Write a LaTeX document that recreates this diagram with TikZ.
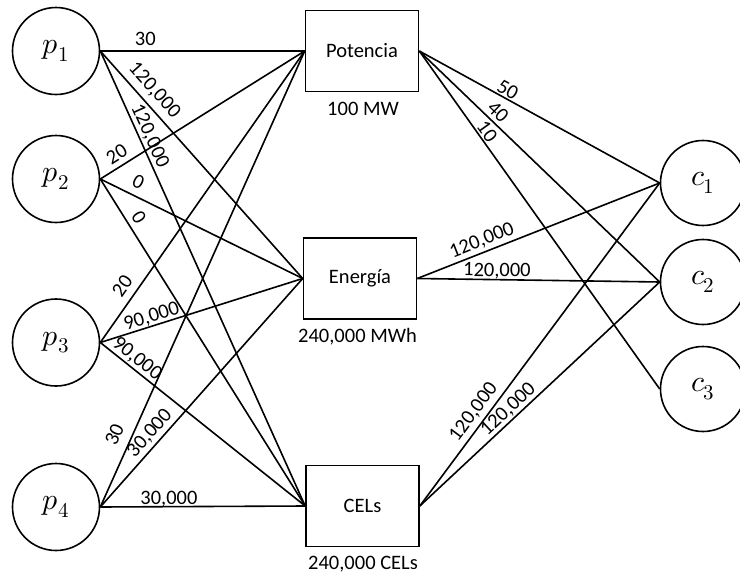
\documentclass[tikz,border=0pt]{standalone}
\usepackage{fontspec}
\usepackage{unicode-math}
\setmainfont{Carlito}
\setmathfont{Latin Modern Math}
\begin{document}
\begin{tikzpicture}[x=1pt,y=-1pt,
  every node/.style={font=\fontsize{20.5}{24}\selectfont},
  party/.style={circle,draw,line width=1.6pt,minimum size=87pt,inner sep=0pt,
    font=\fontsize{30}{36}\selectfont},
  buyer/.style={party,minimum size=85pt},
  market/.style={rectangle,draw,line width=1.6pt,minimum width=113pt,
    minimum height=81pt,inner sep=0pt},
  limitnote/.style={anchor=base,inner sep=0pt},
  flow/.style={line width=1.6pt},
  qty/.style={sloped,anchor=south,inner xsep=0pt,inner ysep=#1,
    text height=13pt,text depth=0pt},
]
\useasboundingbox (0,0) rectangle (740,573);

% producers
\node[party] (p1) at (56,51)    {$p_1$};
\node[party] (p2) at (56,179)   {$p_2$};
\node[party] (p3) at (56,342.5) {$p_3$};
\node[party] (p4) at (56,507)   {$p_4$};

% products
\node[market] (pot) at (362,51)    {Potencia};
\node[market] (en)  at (360,278.5) {Energía};
\node[market] (cel) at (362.5,506) {CELs};
\node[limitnote] (potcap) at (363,115)   {100 MW};
\node[limitnote] (encap)  at (357.5,342) {240,000 MWh};
\node[limitnote] (celcap) at (363,569)   {240,000 CELs};

% consumers
\node[buyer] (c1) at (703,183) {$c_1$};
\node[buyer] (c2) at (703,282) {$c_2$};
\node[buyer] (c3) at (703,389) {$c_3$};

% offers from producers
\draw[flow] (p1.east) -- node[qty=4.5pt,pos=0.22]{30} (pot.west);
\draw[flow] (p1.east) -- node[qty=8pt,pos=0.215]{120,000} (en.west);
\draw[flow] (p1.east) -- node[qty=4pt,pos=0.196]{120,000} (cel.west);

\draw[flow] (p2.east) -- node[qty=5pt,pos=0.112]{20} (pot.west);
\draw[flow] (p2.east) -- node[qty=6.4pt,pos=0.158]{0} (en.west);
\draw[flow] (p2.east) -- node[qty=5pt,pos=0.138]{0} (cel.west);

\draw[flow] (p3.east) -- node[qty=7pt,pos=0.165]{20} (pot.west);
\draw[flow] (p3.east) -- node[qty=2.8pt,pos=0.267]{90,000} (en.west);
\draw[flow] (p3.east) -- node[qty=4pt,pos=0.148]{90,000} (cel.west);

\draw[flow] (p4.east) -- node[qty=9.5pt,pos=0.144]{30} (pot.west);
\draw[flow] (p4.east) -- node[qty=5.6pt,pos=0.288]{30,000} (en.west);
\draw[flow] (p4.east) -- node[qty=1.5pt,pos=0.335]{30,000} (cel.west);

% demand of consumers
\draw[flow] (pot.east) -- node[qty=1.7pt,pos=0.35]{50} (c1.west);
\draw[flow] (pot.east) -- node[qty=3.2pt,pos=0.2975]{40} (c2.west);
\draw[flow] (pot.east) -- node[qty=1.4pt,pos=0.253]{10} (c3.west);

\draw[flow] (en.east) -- node[qty=5.3pt,pos=0.284]{120,000} (c1.west);
\draw[flow] (en.east) -- node[qty=2.5pt,pos=0.328]{120,000} (c2.west);

\draw[flow] (cel.east) -- node[qty=6.6pt,pos=0.267]{120,000} (c1.west);
\draw[flow] (cel.east) -- node[qty=3.8pt,pos=0.397]{120,000} (c2.west);
\end{tikzpicture}
\end{document}
